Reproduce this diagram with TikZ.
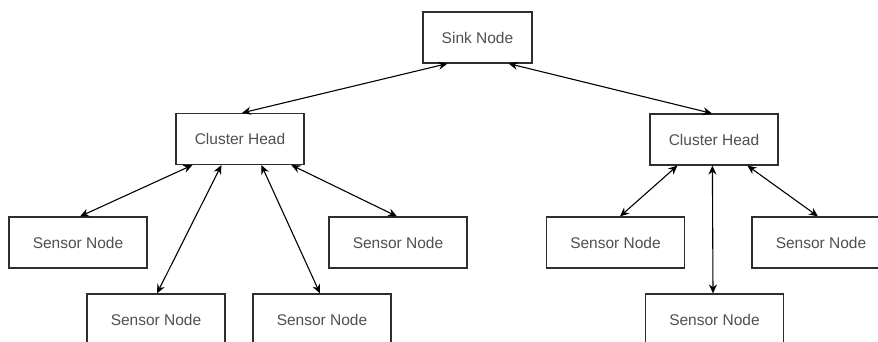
\documentclass[tikz,border=0pt]{standalone}
\usepackage{fontspec}
\setmainfont{Liberation Sans}
\usetikzlibrary{arrows.meta}
\definecolor{boxline}{HTML}{2E2E2E}
\definecolor{boxtext}{HTML}{505050}
\begin{document}
\begin{tikzpicture}[x=1pt,y=-1pt,
  box/.style={draw=boxline, line width=1.2pt, fill=white, inner sep=0pt,
    minimum height=51pt, text=boxtext, font=\fontsize{15.5}{18}\selectfont},
  sinkbox/.style={box, minimum width=109pt},
  headbox/.style={box, minimum width=128pt},
  sensorbox/.style={box, minimum width=138pt},
  link/.style={line width=1.1pt, draw=black,
    {Stealth[length=9pt,width=8pt]}-{Stealth[length=9pt,width=8pt]}}]
  \clip (0,0) rectangle (878,341);
  \fill[white] (0,0) rectangle (878,341);

  % sink and cluster heads
  \node[sinkbox] (sink) at (477.5,37.5) {Sink Node};
  \node[headbox] (chl) at (240,139) {Cluster Head};
  \node[headbox] (chr) at (714,139.5) {Cluster Head};

  % sensor nodes of the left cluster
  \node[sensorbox] (s1) at (78,242.5) {Sensor Node};
  \node[sensorbox] (s2) at (156,319.5) {Sensor Node};
  \node[sensorbox] (s3) at (322,319.5) {Sensor Node};
  \node[sensorbox] (s4) at (398,242.5) {Sensor Node};

  % sensor nodes of the right cluster
  \node[sensorbox] (s5) at (615.5,242.5) {Sensor Node};
  \node[sensorbox] (s6) at (821,242.5) {Sensor Node};
  \node[sensorbox] (s7) at (714.5,319.5) {Sensor Node};

  % sink to cluster heads
  \draw[link] ([xshift=25pt]sink.south west) -- ([xshift=2pt]chl.north);
  \draw[link] ([xshift=-24pt]sink.south east) -- ([xshift=-2pt]chr.north);

  % left cluster links
  \draw[link] ([xshift=17pt]chl.south west) -- ([xshift=2pt]s1.north);
  \draw[link] ([xshift=46pt]chl.south west) -- ([xshift=1pt]s2.north);
  \draw[link] ([xshift=86pt]chl.south west) -- ([xshift=-2pt]s3.north);
  \draw[link] ([xshift=116pt]chl.south west) -- ([xshift=-1pt]s4.north);

  % right cluster links
  \draw[link] ([xshift=28pt]chr.south west) -- ([xshift=4.5pt]s5.north);
  \draw[link] ([xshift=63pt]chr.south west) -- ([xshift=-1.5pt]s7.north);
  \draw[link] ([xshift=98pt]chr.south west) -- ([xshift=-3pt]s6.north);
\end{tikzpicture}
\end{document}
